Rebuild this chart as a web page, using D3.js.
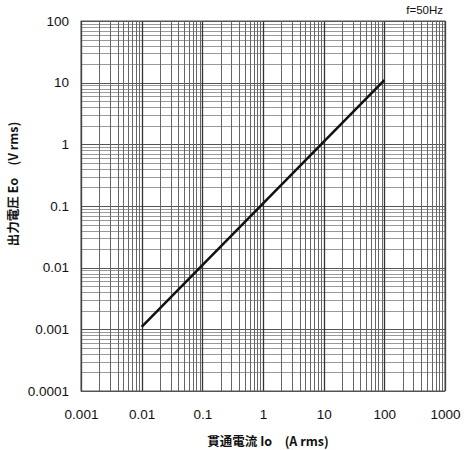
<!DOCTYPE html>
<html>
<head>
<meta charset="utf-8">
<script src="https://cdn.jsdelivr.net/npm/d3@7"></script>
<style>
  body { margin: 0; background: #fff; }
  text { font-family: "Liberation Sans", "DejaVu Sans", sans-serif; }
</style>
</head>
<body>
<div id="svgRoot"></div>
<script>
// tick values (decades) on each axis
const xTicks = [0.001, 0.01, 0.1, 1, 10, 100, 1000];
const xTickLabels = ["0.001", "0.01", "0.1", "1", "10", "100", "1000"];
const yTicks = [0.0001, 0.001, 0.01, 0.1, 1, 10, 100];
const yTickLabels = ["0.0001", "0.001", "0.01", "0.1", "1", "10", "100"];

// the output characteristic: current Io (A rms) vs voltage Eo (V rms)
const currentIo = [0.01, 100];
const voltageEo = [0.0011, 11];

const W = 466, H = 450;
const margin = { top: 21, right: 21, bottom: 59, left: 81 };
const width = W - margin.left - margin.right,
      height = H - margin.top - margin.bottom;

const svg = d3.select("#svgRoot").append("svg")
  .attr("width", W).attr("height", H);

const g = svg.append("g")
  .attr("transform", "translate(" + margin.left + "," + margin.top + ")");

const x = d3.scaleLog().domain([0.001, 1000]).range([0, width]);
const y = d3.scaleLog().domain([0.0001, 100]).range([height, 0]);

// all 1..9 lines in each decade
function gridValues(scale) {
  const [a, b] = scale.domain();
  const vals = [];
  for (let e = Math.round(Math.log10(a)); e < Math.round(Math.log10(b)); e++) {
    for (let k = 1; k <= 9; k++) vals.push(k * Math.pow(10, e));
  }
  vals.push(b);
  return vals;
}
const isMajor = v => Math.abs(Math.log10(v) - Math.round(Math.log10(v))) < 1e-6;

// horizontal grid
g.append("g").selectAll("line")
  .data(gridValues(y))
  .enter().append("line")
  .attr("x1", 0).attr("x2", width)
  .attr("y1", d => Math.round(y(d)) + 0.5).attr("y2", d => Math.round(y(d)) + 0.5)
  .attr("stroke", d => isMajor(d) ? "#555" : "#999")
  .attr("stroke-width", d => isMajor(d) ? 1.2 : 1);

// vertical grid
g.append("g").selectAll("line")
  .data(gridValues(x))
  .enter().append("line")
  .attr("y1", 0).attr("y2", height)
  .attr("x1", d => Math.round(x(d)) + 0.5).attr("x2", d => Math.round(x(d)) + 0.5)
  .attr("stroke", d => isMajor(d) ? "#333" : "#666")
  .attr("stroke-width", d => isMajor(d) ? 1.3 : 1);

// frame
g.append("rect")
  .attr("width", width).attr("height", height)
  .attr("fill", "none").attr("stroke", "#555").attr("stroke-width", 1);

// axes: labels only
const xAxis = g.append("g")
  .attr("transform", "translate(0," + height + ")")
  .call(d3.axisBottom(x).tickValues(xTicks)
    .tickFormat((d, i) => xTickLabels[i]).tickSize(0).tickPadding(18));
xAxis.select(".domain").remove();
xAxis.selectAll("text").attr("font-size", 13.5).attr("fill", "#111")
  .style("font-family", "'Liberation Sans', sans-serif");

const yAxis = g.append("g")
  .call(d3.axisLeft(y).tickValues(yTicks)
    .tickFormat((d, i) => yTickLabels[i]).tickSize(0).tickPadding(12));
yAxis.select(".domain").remove();
yAxis.selectAll("text").attr("font-size", 13.5).attr("fill", "#111")
  .style("font-family", "'Liberation Sans', sans-serif");

// the line
const line = d3.line()
  .x(d => x(d[0]))
  .y(d => y(d[1]));
g.append("path")
  .datum(currentIo.map((c, i) => [c, voltageEo[i]]))
  .attr("d", line)
  .attr("fill", "none")
  .attr("stroke", "#111")
  .attr("stroke-width", 2.5);

// titles
svg.append("text")
  .text("f=50Hz")
  .attr("x", 443).attr("y", 14)
  .attr("text-anchor", "end")
  .attr("font-size", 11.5).attr("fill", "#111");

svg.append("text")
  .text("貫通電流 Io\u3000(A rms)")
  .attr("x", 268).attr("y", 446)
  .attr("text-anchor", "middle")
  .attr("font-size", 12.5).attr("font-weight", 600).attr("fill", "#111")
  .style("font-family", "'Noto Sans CJK JP', sans-serif");

svg.append("text")
  .text("出力電圧 Eo\u3000(V rms)")
  .attr("transform", "translate(18,184) rotate(-90)")
  .attr("text-anchor", "middle")
  .attr("font-size", 12.5).attr("font-weight", 600).attr("fill", "#111")
  .style("font-family", "'Noto Sans CJK JP', sans-serif");
</script>
</body>
</html>
